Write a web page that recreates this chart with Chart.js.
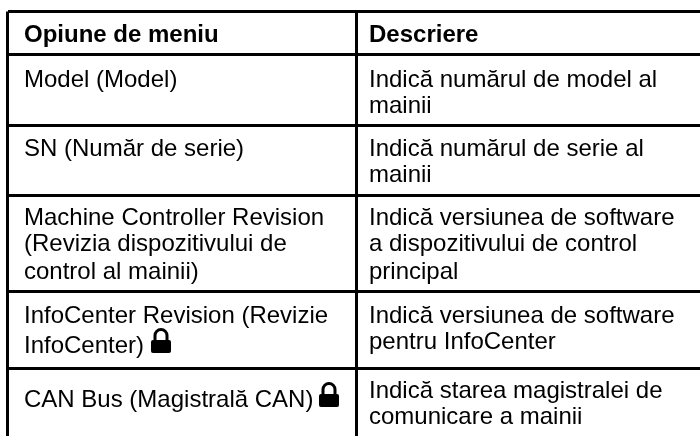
<!DOCTYPE html>
<html>
<head>
<meta charset="utf-8">
<style>html,body{margin:0;padding:0;background:#fff}canvas{display:block}</style>
<script src="https://cdn.jsdelivr.net/npm/chart.js@4"></script>
</head>
<body>
<canvas id="c" width="700" height="436"></canvas>
<script>
const headers = ["Opiune de meniu", "Descriere"];
const optionLines = [
  ["Model (Model)"],
  ["SN (Număr de serie)"],
  ["Machine Controller Revision", "(Revizia dispozitivului de", "control al mainii)"],
  ["InfoCenter Revision (Revizie", "InfoCenter)"],
  ["CAN Bus (Magistrală CAN)"]
];
const descLines = [
  ["Indică numărul de model al", "mainii"],
  ["Indică numărul de serie al", "mainii"],
  ["Indică versiunea de software", "a dispozitivului de control", "principal"],
  ["Indică versiunea de software", "pentru InfoCenter"],
  ["Indică starea magistralei de", "comunicare a mainii"]
];
const colEdges = [7.5, 356.5];
const rowEdges = [11.5, 54, 125, 195, 291, 368];
const colText = [24, 369];
const headerBase = 42;
const optionBase = [[87], [156], [224.5, 251, 278.5], [322.5, 352.5], [406.5]];
const descBase = [[87, 112.5], [156, 181.5], [224.5, 251, 278.5], [322.5, 348.5], [397.5, 423.5]];
const lockPoints = [{x: 161.5, y: 341}, {x: 329.5, y: 395}];

function lockIcon() {
  const c = document.createElement('canvas');
  c.width = 21; c.height = 26;
  const g = c.getContext('2d');
  g.fillStyle = '#000'; g.strokeStyle = '#000';
  g.lineWidth = 3;
  g.beginPath();
  g.moveTo(4, 14); g.lineTo(4, 7.5);
  g.arc(10, 7.5, 6, Math.PI, 0);
  g.lineTo(16, 14);
  g.stroke();
  g.beginPath();
  g.roundRect(0, 12, 20, 13, 2);
  g.fill();
  return c;
}

const tableText = {
  id: 'tableText',
  afterDraw(chart) {
    const {ctx, scales: {x, y}} = chart;
    const put = (s, cx, by) => ctx.fillText(s, x.getPixelForValue(cx), y.getPixelForValue(by));
    ctx.save();
    ctx.fillStyle = '#000';
    ctx.textBaseline = 'alphabetic';
    ctx.textAlign = 'left';
    ctx.font = 'bold 24px "Liberation Sans"';
    headers.forEach((h, i) => put(h, colText[i], headerBase));
    ctx.font = '24px "Liberation Sans"';
    optionLines.forEach((r, i) => r.forEach((s, j) => put(s, colText[0], optionBase[i][j])));
    descLines.forEach((r, i) => r.forEach((s, j) => put(s, colText[1], descBase[i][j])));
    ctx.restore();
  }
};

new Chart(document.getElementById('c'), {
  type: 'scatter',
  data: {datasets: [{
    data: lockPoints,
    pointStyle: lockIcon(),
    pointRadius: 10,
    borderWidth: 0
  }]},
  options: {
    responsive: false,
    animation: false,
    devicePixelRatio: 1,
    layout: {autoPadding: false, padding: {top: 11.5, left: 7.5, right: 0, bottom: 0}},
    plugins: {legend: {display: false}, tooltip: {enabled: false}, title: {display: false}},
    scales: {
      x: {
        type: 'linear', min: 7.5, max: 700,
        afterBuildTicks: s => { s.ticks = colEdges.map(v => ({value: v})); },
        ticks: {display: false, autoSkip: false},
        border: {display: false},
        grid: {color: '#000', lineWidth: 3, drawTicks: false}
      },
      y: {
        type: 'linear', reverse: true, min: 11.5, max: 436,
        afterBuildTicks: s => { s.ticks = rowEdges.map(v => ({value: v})); },
        ticks: {display: false, autoSkip: false},
        border: {display: false},
        grid: {color: '#000', lineWidth: 3, drawTicks: false}
      }
    }
  },
  plugins: [tableText]
});
</script>
</body>
</html>
